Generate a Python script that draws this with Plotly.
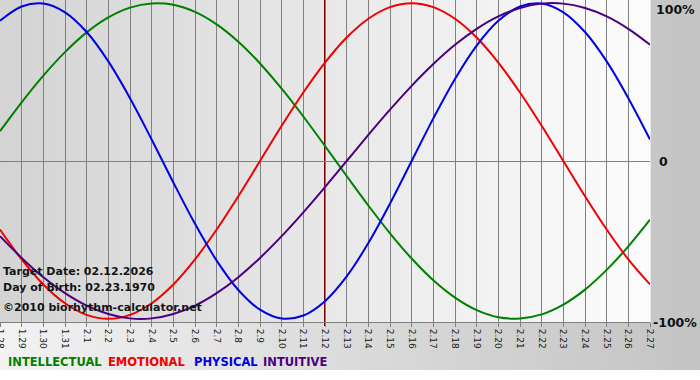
import plotly.graph_objects as go

# ---- data ----
day_labels = ["1.28", "1.29", "1.30", "1.31", "2.1", "2.2", "2.3", "2.4", "2.5", "2.6",
              "2.7", "2.8", "2.9", "2.10", "2.11", "2.12", "2.13", "2.14", "2.15", "2.16",
              "2.17", "2.18", "2.19", "2.20", "2.21", "2.22", "2.23", "2.24", "2.25", "2.26",
              "2.27"]
target_label = "2.12"

intellectual = [0.189, 0.372, 0.541, 0.690, 0.815, 0.910, 0.972, 0.998, 0.990, 0.945, 0.866,
                0.756, 0.618, 0.458, 0.282, 0.095, -0.095, -0.282, -0.458, -0.618, -0.756,
                -0.866, -0.945, -0.990, -0.998, -0.972, -0.910, -0.815, -0.690, -0.541, -0.372]
emotional = [-0.434, -0.623, -0.782, -0.901, -0.975, -1.000, -0.975, -0.901, -0.782, -0.623,
             -0.434, -0.223, 0.000, 0.223, 0.434, 0.623, 0.782, 0.901, 0.975, 1.000, 0.975,
             0.901, 0.782, 0.623, 0.434, 0.223, 0.000, -0.223, -0.434, -0.623, -0.782]
physical = [0.888, 0.979, 0.998, 0.942, 0.817, 0.631, 0.398, 0.136, -0.136, -0.398, -0.631,
            -0.817, -0.942, -0.998, -0.979, -0.888, -0.731, -0.520, -0.270, 0.000, 0.270,
            0.520, 0.731, 0.888, 0.979, 0.998, 0.942, 0.817, 0.631, 0.398, 0.136]
intuitive = [-0.476, -0.614, -0.736, -0.837, -0.916, -0.969, -0.997, -0.997, -0.969, -0.916,
             -0.837, -0.736, -0.614, -0.476, -0.325, -0.165, 0.000, 0.165, 0.325, 0.476,
             0.614, 0.736, 0.837, 0.916, 0.969, 0.997, 0.997, 0.969, 0.916, 0.837, 0.736]

series_names = ["INTELLECTUAL", "EMOTIONAL", "PHYSICAL", "INTUITIVE"]
series_values = [intellectual, emotional, physical, intuitive]
series_colors = ["#008000", "#f00000", "#0000e6", "#4b0082"]

info_lines = ["Target Date: 02.12.2026", "Day of Birth: 02.23.1970", "\u00a92010 biorhythm-calculator.net"]
y_tick_labels = ["100%", "0", "-100%"]

# ---- layout constants ----
W, H = 700, 380
PL, PR, PT, PB = 0, 50, 0, 58
PW, PH = W - PL - PR, H - PT - PB
FONT = "DejaVu Sans"

x_idx = list(range(len(day_labels)))

fig = go.Figure()
for name, vals, col in zip(series_names, series_values, series_colors):
    fig.add_trace(go.Scatter(x=x_idx, y=vals, mode="lines", name=name,
                             line=dict(color=col, width=2, shape="spline", smoothing=1.0),
                             hoverinfo="skip", showlegend=False))

shapes = []
# outer background: horizontal gradient light -> gray, down to y=370px
n = 70
bottom_px = 370
for i in range(n):
    x0 = i * W / n
    x1 = (i + 1) * W / n
    v = int(round(242 - (242 - 196) * (i / (n - 1))))
    shapes.append(dict(type="rect", xref="paper", yref="paper",
                       x0=x0 / PW, x1=x1 / PW + 0.001,
                       y0=-(bottom_px - PH) / PH, y1=1.0,
                       fillcolor=f"rgb({v},{v},{v})", line=dict(width=0), layer="below"))
# plot area gradient: gray -> nearly white
m = 65
for i in range(m):
    v = int(round(212 - (212 - 252) * (i / (m - 1))))
    shapes.append(dict(type="rect", xref="paper", yref="paper",
                       x0=i / m, x1=(i + 1) / m + 0.001, y0=0, y1=1,
                       fillcolor=f"rgb({v},{v},{v})", line=dict(width=0), layer="below"))
# target day marker
ti = day_labels.index(target_label)
shapes.append(dict(type="line", xref="x", yref="paper", x0=ti, x1=ti, y0=-4 / PH, y1=1,
                   line=dict(color="#800000", width=2), layer="between"))

annotations = []
# right axis labels
rfont = dict(family=FONT, size=12.5, color="#111", weight=700)
annotations.append(dict(text=y_tick_labels[0], xref="paper", yref="paper", x=1, y=1,
                        xanchor="left", yanchor="top", xshift=4, showarrow=False, font=rfont))
annotations.append(dict(text=y_tick_labels[1], xref="paper", yref="y", x=1, y=0,
                        xanchor="left", yanchor="middle", xshift=7, showarrow=False, font=rfont))
annotations.append(dict(text=y_tick_labels[2], xref="paper", yref="paper", x=1, y=0,
                        xanchor="left", yanchor="middle", xshift=1, showarrow=False, font=rfont))
# info text
info_y = [271, 287, 307]
for t, py in zip(info_lines, info_y):
    annotations.append(dict(text=t, xref="paper", yref="paper", x=1 / PW, y=1 - py / PH,
                            xanchor="left", yanchor="middle", showarrow=False,
                            font=dict(family=FONT, size=11, color="#151515", weight=700)))
# colored legend words
legend_x = [6, 106, 192, 261]
for name, col, px in zip(series_names, series_colors, legend_x):
    annotations.append(dict(text=name, xref="paper", yref="paper", x=px / PW, y=1 - 362 / PH,
                            xanchor="left", yanchor="middle", showarrow=False,
                            font=dict(family=FONT, size=11.5, color=col, weight=700)))

fig.update_layout(
    width=W, height=H,
    margin=dict(l=PL, r=PR, t=PT, b=PB, pad=0, autoexpand=False),
    paper_bgcolor="white", plot_bgcolor="rgba(0,0,0,0)",
    shapes=shapes, annotations=annotations,
    xaxis=dict(range=[0, len(day_labels) - 1], tickmode="array", tickvals=x_idx,
               ticktext=day_labels, tickangle=90, showgrid=True, gridcolor="#808080",
               gridwidth=1, showline=True, linecolor="#808080", linewidth=1, mirror=True,
               ticks="outside", ticklen=4, tickcolor="#808080", zeroline=False,
               ticklabeloverflow="allow", automargin=False,
               tickfont=dict(family=FONT, size=9, color="#1a1a1a"), fixedrange=True),
    yaxis=dict(range=[-1.02, 1.02], showticklabels=False, showgrid=False, zeroline=True,
               zerolinecolor="#808080", zerolinewidth=1, ticks="", fixedrange=True,
               automargin=False),
)

fig.write_html("out.html", config={"displayModeBar": False},
               post_script="document.body.style.margin='0';")
